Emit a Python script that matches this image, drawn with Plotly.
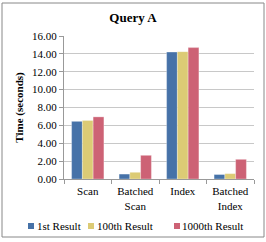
import plotly.graph_objects as go

categories = ["Scan", "Batched<br>Scan", "Index", "Batched<br>Index"]
series_names = ["1st Result", "100th Result", "1000th Result"]
first_result = [6.45, 0.55, 14.20, 0.50]
hundredth_result = [6.55, 0.75, 14.25, 0.60]
thousandth_result = [6.95, 2.65, 14.70, 2.20]
colors = ["#4672a8", "#dccb75", "#cd6275"]

W, H = 266, 242
L, R, T, B = 64, 12, 36, 63
pw, ph = W - L - R, H - T - B

def px_x(x):
    return (x - L) / pw

def px_y(y):
    return (H - B - y) / ph

fig = go.Figure()
for name, vals, c in zip(series_names, [first_result, hundredth_result, thousandth_result], colors):
    fig.add_trace(go.Bar(x=categories, y=vals, name=name,
                         marker=dict(color=c, line=dict(color="rgba(255,255,255,0.6)", width=0.5))))

font_family = "Liberation Serif"
fig.update_layout(
    width=W, height=H,
    margin=dict(l=L, r=R, t=T, b=B, autoexpand=False),
    paper_bgcolor="white", plot_bgcolor="white",
    font=dict(family=font_family, size=11, color="black"),
    title=dict(text="<b>Query A</b>", x=0.5, xanchor="center", y=1 - 17.5 / H, yanchor="middle",
               font=dict(size=13, family=font_family)),
    barmode="group", bargap=0.32, bargroupgap=0,
    showlegend=False,
)
fig.update_yaxes(range=[0, 16], dtick=2, tickformat=".2f", showgrid=True, gridcolor="#c8c8c8", gridwidth=1,
                 showline=True, linecolor="#999999", ticks="outside", ticklen=4, tickcolor="#999999",
                 title=dict(text="<b>Time (seconds)</b>", font=dict(size=11), standoff=6),
                 zeroline=False, automargin=False)
fig.update_xaxes(showline=True, linecolor="#999999", ticks="outside", tickcolor="#999999", ticklen=4,
                 tickson="boundaries", automargin=False, tickangle=0, ticklabelstandoff=2)

# chart-area border
fig.add_shape(type="rect", xref="paper", yref="paper", x0=px_x(2), x1=px_x(264), y0=px_y(237), y1=px_y(3),
              line=dict(color="#888888", width=1))

# manual legend
legend_sq_x = [28, 88, 174]
legend_txt_x = [35, 95, 180]
ly = 226
for name, c, sx, tx in zip(series_names, colors, legend_sq_x, legend_txt_x):
    fig.add_shape(type="rect", xref="paper", yref="paper", x0=px_x(sx), x1=px_x(sx + 6),
                  y0=px_y(ly + 3), y1=px_y(ly - 3), fillcolor=c, line=dict(width=0))
    fig.add_annotation(xref="paper", yref="paper", x=px_x(tx), y=px_y(ly), text=name, showarrow=False,
                       xanchor="left", yanchor="middle", font=dict(size=11, family=font_family))
fig.write_html("out.html", config={"displayModeBar": False},
               post_script="document.body.style.margin='0';")
